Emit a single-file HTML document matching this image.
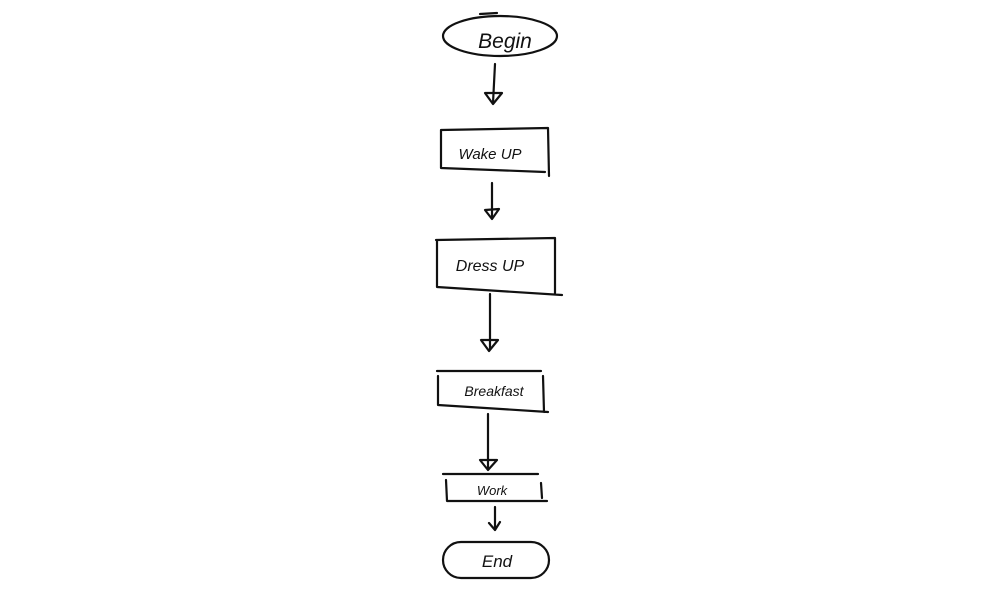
<!DOCTYPE html>
<html><head><meta charset="utf-8"><style>
html,body{margin:0;padding:0;background:#fff;}
svg{display:block}
text{font-family:"Liberation Sans",sans-serif;font-style:italic;fill:#111;text-anchor:middle}
</style></head><body>
<svg width="1000" height="600" viewBox="0 0 1000 600" xmlns="http://www.w3.org/2000/svg">
<g fill="none" stroke="#111" stroke-width="2.2" stroke-linecap="round" stroke-linejoin="round">
<!-- Begin ellipse -->
<ellipse cx="500" cy="36" rx="57" ry="20"/>
<line x1="480" y1="14" x2="497" y2="13"/>
<!-- arrow 1 -->
<path d="M495 64 L493 103"/>
<path d="M485 93 L502 93 L493 104 Z"/>
<!-- Wake up -->
<path d="M441 130 L548 128 L549 176 M441 130 L441 168 L545 172"/>
<!-- arrow 2 -->
<path d="M492 183 L492 217"/>
<path d="M485 210 L499 209 L492 219 Z"/>
<!-- Dress up -->
<path d="M436 240 L555 238 L555 294 M437 240 L437 287 L562 295"/>
<!-- arrow 3 -->
<path d="M490 294 L490 349"/>
<path d="M481 340 L498 340 L489 351 Z"/>
<!-- Breakfast -->
<path d="M437 371 L541 371 M438 376 L438 405 L548 412 M543 376 L544 412"/>
<!-- arrow 4 -->
<path d="M488 414 L488 468"/>
<path d="M480 460 L497 460 L488 470 Z"/>
<!-- Work -->
<path d="M443 474 L538 474 M446 480 L447 501 L547 501 M541 483 L542 498"/>
<!-- arrow 5 -->
<path d="M495 507 L495 530 M489 523 L495 530 L500 522"/>
<!-- End -->
<rect x="443" y="542" width="106" height="36" rx="18" ry="18"/>
</g>
<text x="505" y="48" font-size="21">Begin</text>
<text x="490" y="159" font-size="15">Wake UP</text>
<text x="490" y="271" font-size="16">Dress UP</text>
<text x="494" y="396" font-size="14">Breakfast</text>
<text x="492" y="495" font-size="13">Work</text>
<text x="497" y="567" font-size="17">End</text>
</svg>
</body></html>
